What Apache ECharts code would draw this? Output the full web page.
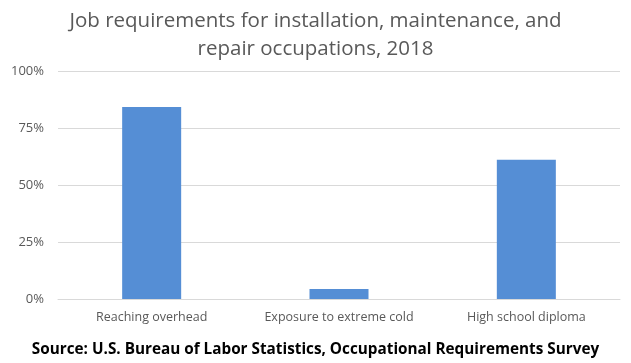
<!DOCTYPE html>
<html>
<head>
<meta charset="utf-8">
<script src="https://cdn.jsdelivr.net/npm/echarts@6/dist/echarts.min.js"></script>
<style>
html,body{margin:0;padding:0;background:#fff;}
#chart{width:631px;height:363px;}
</style>
</head>
<body>
<div id="chart"></div>
<script>
const categories = ["Reaching overhead", "Exposure to extreme cold", "High school diploma"];
const values = [0.842, 0.044, 0.611];
const yTicks = [0, 0.25, 0.5, 0.75, 1];

const chart = echarts.init(document.getElementById('chart'));
chart.setOption({
  animation: false,
  backgroundColor: '#ffffff',
  title: [{
    text: 'Job requirements for installation, maintenance, and\nrepair occupations, 2018',
    left: 'center',
    top: 2,
    textStyle: {fontFamily: 'Open Sans', fontSize: 20.5, fontWeight: 'normal', color: '#595959', lineHeight: 28}
  }, {
    text: 'Source: U.S. Bureau of Labor Statistics, Occupational Requirements Survey',
    left: 'center',
    bottom: 1,
    textStyle: {fontFamily: 'Open Sans', fontSize: 15.3, fontWeight: 'bold', color: '#000000'}
  }],
  grid: {left: 58, right: 11, top: 71, bottom: 64},
  xAxis: {
    type: 'category',
    data: categories,
    axisTick: {show: false},
    axisLine: {lineStyle: {color: '#d9d9d9'}},
    axisLabel: {interval: 0, hideOverlap: false, fontFamily: 'Open Sans', fontSize: 12.5, color: '#595959', margin: 12}
  },
  yAxis: {
    type: 'value',
    min: 0, max: 1, interval: 0.25,
    axisLine: {show: false},
    axisTick: {show: false},
    splitLine: {lineStyle: {color: '#d9d9d9'}},
    axisLabel: {fontFamily: 'Open Sans', fontSize: 13, color: '#595959', margin: 14,
      formatter: v => Math.round(v * 100) + '%'}
  },
  series: [{
    type: 'bar',
    data: values,
    barWidth: '31.5%',
    itemStyle: {color: '#558ed5'}
  }]
});
</script>
</body>
</html>
